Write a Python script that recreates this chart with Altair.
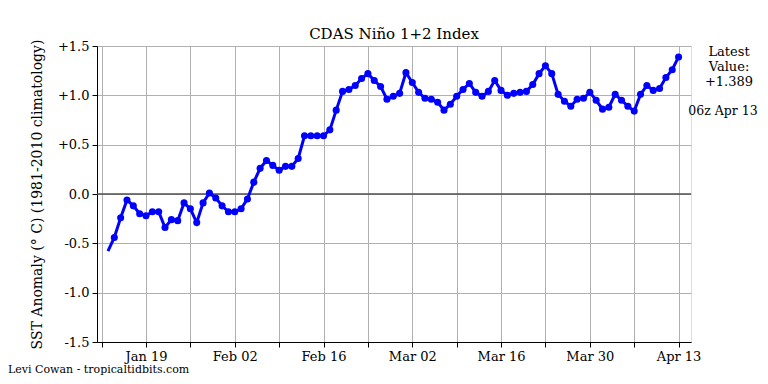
import altair as alt
import pandas as pd

# ---- data ----
dates = pd.date_range("2023-01-13", "2023-04-13", freq="D").strftime("%Y-%m-%d").tolist()
values = [
    -0.58,  # Jan 13 (line only)
    -0.44, -0.24, -0.06, -0.12, -0.20, -0.22, -0.18, -0.18, -0.34, -0.26,   # Jan 14-23
    -0.27, -0.09, -0.15, -0.29, -0.09, 0.01, -0.04, -0.12, -0.18, -0.18,    # Jan 24-Feb 2
    -0.15, -0.05, 0.12, 0.26, 0.34, 0.29, 0.24, 0.28, 0.28, 0.36,           # Feb 3-12
    0.59, 0.59, 0.59, 0.59, 0.65, 0.85, 1.04, 1.06, 1.10, 1.17,             # Feb 13-22
    1.22, 1.15, 1.09, 0.96, 0.99, 1.02, 1.23, 1.13, 1.03, 0.97,             # Feb 23-Mar 4
    0.96, 0.93, 0.85, 0.91, 0.99, 1.06, 1.12, 1.03, 0.99, 1.04,             # Mar 5-14
    1.15, 1.05, 1.00, 1.02, 1.03, 1.04, 1.11, 1.22, 1.30, 1.22,             # Mar 15-24
    1.01, 0.94, 0.89, 0.96, 0.97, 1.03, 0.95, 0.86, 0.88, 1.01,             # Mar 25-Apr 3
    0.95, 0.89, 0.84, 1.01, 1.10, 1.05, 1.07, 1.18, 1.26, 1.389,            # Apr 4-13
]
x_tick_labels = ["Jan 19", "Feb 02", "Feb 16", "Mar 02", "Mar 16", "Mar 30", "Apr 13"]
y_ticks = [-1.5, -1.0, -0.5, 0.0, 0.5, 1.0, 1.5]
latest_text = "Latest\nValue:\n+1.389"
latest_time = "06z Apr 13"
title_text = "CDAS Niño 1+2 Index"
y_title = "SST Anomaly (° C) (1981-2010 climatology)"
credit = "Levi Cowan - tropicaltidbits.com"

# ---- build table ----
ref = pd.Timestamp("2023-01-19")
df = pd.DataFrame({"date": pd.to_datetime(dates), "value": values})
df["day"] = (df["date"] - ref).dt.days
df["marker"] = [False] + [True] * (len(df) - 1)

major_days = [14 * i for i in range(len(x_tick_labels))]
all_days = list(range(-7, 85, 7))
label_expr = "''"
for d, lab in reversed(list(zip(major_days, x_tick_labels))):
    label_expr = f"datum.value == {d} ? '{lab}' : ({label_expr})"

FONT = "DejaVu Serif"
W, H = 594, 296
xscale = alt.Scale(domain=[-7.73, 85.96], nice=False, zero=False)
yscale = alt.Scale(domain=[-1.5, 1.5], nice=False)

x_enc = alt.X(
    "day:Q", scale=xscale,
    axis=alt.Axis(values=all_days, labelExpr=label_expr, title=None, grid=True,
                  gridColor="#b0b0b0", gridWidth=1, tickColor="black", tickSize=5,
                  domainColor="black", labelFont=FONT, labelFontSize=13,
                  labelColor="black", labelPadding=3, labelFlush=False),
)
y_enc = alt.Y(
    "value:Q", scale=yscale,
    axis=alt.Axis(values=y_ticks,
                  labelExpr="datum.value > 0 ? '+' + format(datum.value, '.1f') : (datum.value < 0 ? '-' + format(-datum.value, '.1f') : '0.0')",
                  title=y_title, titleFont=FONT, titleFontSize=14, titleFontWeight="normal",
                  titleColor="black", titleAngle=270, titleX=-60, titleY=H / 2,
                  titleAlign="center", titleBaseline="middle",
                  grid=True, gridColor="#b0b0b0", gridWidth=1, tickColor="black",
                  tickSize=5, domainColor="black", labelFont=FONT, labelFontSize=13,
                  labelColor="black", labelPadding=3, labelFlush=False),
)

base = alt.Chart(df)
line = base.mark_line(color="#0000ff", strokeWidth=3).encode(x=x_enc, y=y_enc)
pts = base.transform_filter("datum.marker").mark_circle(color="#0000ff", size=50, opacity=1).encode(
    x="day:Q", y="value:Q")

zero = alt.Chart(pd.DataFrame({"y": [0.0]})).mark_rule(color="#505050", strokeWidth=1.3).encode(y="y:Q")

latest = alt.Chart(pd.DataFrame({"t": [latest_text]})).mark_text(
    font=FONT, fontSize=13, color="black", align="center", baseline="top",
    lineBreak="\n", lineHeight=15).encode(
    text="t:N", x=alt.value(632), y=alt.value(0))
time_txt = alt.Chart(pd.DataFrame({"t": [latest_time]})).mark_text(
    font=FONT, fontSize=12.5, color="black", align="center", baseline="middle").encode(
    text="t:N", x=alt.value(626), y=alt.value(65))
credit_txt = alt.Chart(pd.DataFrame({"t": [credit]})).mark_text(
    font=FONT, fontSize=11, color="black", align="left", baseline="middle").encode(
    text="t:N", x=alt.value(-89), y=alt.value(324))

chart = alt.layer(zero, line, pts, latest, time_txt, credit_txt).properties(
    width=W, height=H,
    title=alt.TitleParams(title_text, font=FONT, fontSize=15, fontWeight="normal",
                          color="black", anchor="middle", offset=8, frame="group", dy=11),
    autosize=alt.AutoSizeParams(type="none"),
    padding={"left": 89, "top": 38, "right": 69, "bottom": 34},
).configure_view(stroke="black", strokeWidth=1.2).configure(background="white")

chart.save("out.html", embed_options={"renderer": "svg", "actions": False})
